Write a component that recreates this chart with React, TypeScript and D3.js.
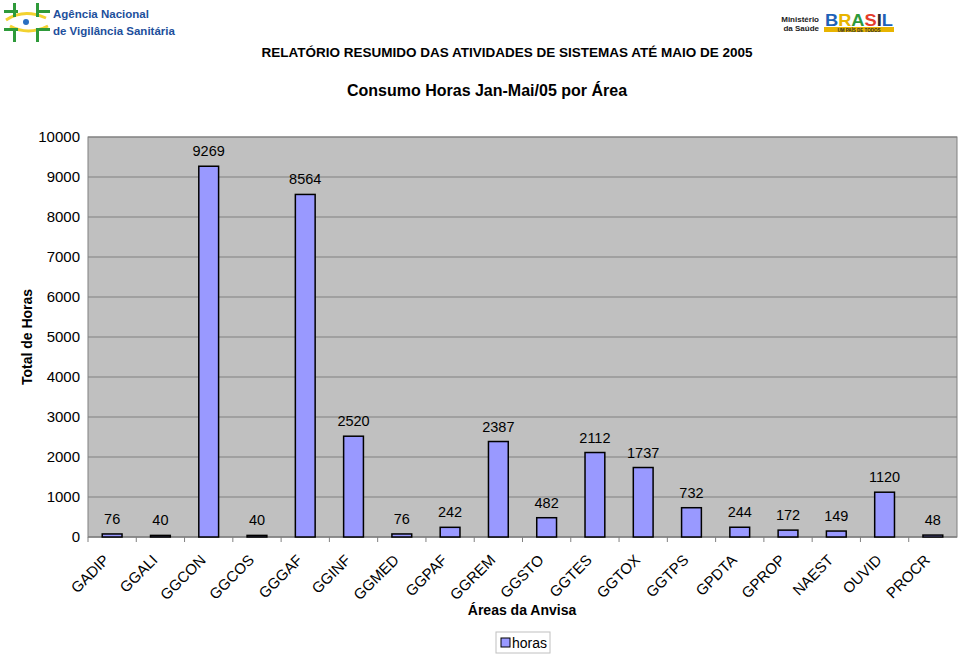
import * as d3 from "d3";

const categories = ["GADIP", "GGALI", "GGCON", "GGCOS", "GGGAF", "GGINF", "GGMED", "GGPAF", "GGREM", "GGSTO", "GGTES", "GGTOX", "GGTPS", "GPDTA", "GPROP", "NAEST", "OUVID", "PROCR"];
const horas = [76, 40, 9269, 40, 8564, 2520, 76, 242, 2387, 482, 2112, 1737, 732, 244, 172, 149, 1120, 48];
const yTicks = [0, 1000, 2000, 3000, 4000, 5000, 6000, 7000, 8000, 9000, 10000];

const FONT = "Liberation Sans, Arial, sans-serif";

export default function App() {
  const width = 960;
  const height = 655;
  const plot = { left: 88, right: 957, top: 137, bottom: 537 };

  const x = d3.scaleBand<string>()
    .domain(categories)
    .range([plot.left, plot.right])
    .paddingInner(0.59)
    .paddingOuter(0.295);
  const step = (plot.right - plot.left) / categories.length;
  const y = d3.scaleLinear().domain([0, 10000]).range([plot.bottom, plot.top]);

  return (
    <svg width={width} height={height} style={{ position: "absolute", left: 0, top: 0, background: "#fff" }} fontFamily={FONT}>
      {/* Anvisa logo */}
      <g>
        <path d="M6,20 Q24,8 46,18" fill="none" stroke="#f2d230" strokeWidth={3} />
        <path d="M10,26 Q28,36 48,26" fill="none" stroke="#f2d230" strokeWidth={3} />
        <rect x={13} y={3} width={3} height={14} fill="#2e9a3a" />
        <rect x={4} y={10} width={14} height={3} fill="#2e9a3a" />
        <rect x={36} y={3} width={3} height={14} fill="#2e9a3a" />
        <rect x={36} y={10} width={14} height={3} fill="#2e9a3a" />
        <rect x={13} y={28} width={3} height={14} fill="#2e9a3a" />
        <rect x={4} y={28} width={14} height={3} fill="#2e9a3a" />
        <rect x={36} y={28} width={3} height={14} fill="#2e9a3a" />
        <rect x={36} y={28} width={14} height={3} fill="#2e9a3a" />
        <circle cx={26} cy={22} r={3} fill="#2a6fc0" />
        <text x={53} y={18} fontSize={11.5} fontWeight="bold" fill="#1d4f9c">Agência Nacional</text>
        <text x={53} y={35} fontSize={11.5} fontWeight="bold" fill="#1d4f9c">de Vigilância Sanitária</text>
      </g>
      {/* Ministério / Brasil logo */}
      <g>
        <text x={819} y={22} fontSize={8} fontWeight="bold" textAnchor="end" fill="#222">Ministério</text>
        <text x={819} y={31} fontSize={8} fontWeight="bold" textAnchor="end" fill="#222">da Saúde</text>
        <text x={825} y={26} fontSize={17} fontWeight="bold" textLength={68} lengthAdjust="spacingAndGlyphs">
          <tspan fill="#1e62b8">B</tspan><tspan fill="#e8b400">R</tspan><tspan fill="#2d9a3a">A</tspan>
          <tspan fill="#e43b2a">S</tspan><tspan fill="#2a2a2a">I</tspan><tspan fill="#1e62b8">L</tspan>
        </text>
        <rect x={824} y={27} width={70} height={5} fill="#e8b400" />
        <text x={859} y={31.5} fontSize={4.5} textAnchor="middle" fill="#2a2a2a" fontWeight="bold">UM PAÍS DE TODOS</text>
      </g>

      <text x={507} y={57} fontSize={13.5} fontWeight="bold" textAnchor="middle">RELATÓRIO RESUMIDO DAS ATIVIDADES DE SISTEMAS ATÉ MAIO DE 2005</text>
      <text x={487} y={96} fontSize={16} fontWeight="bold" textAnchor="middle">Consumo Horas Jan-Mai/05 por Área</text>

      {/* plot area */}
      <rect x={plot.left} y={plot.top} width={plot.right - plot.left} height={plot.bottom - plot.top} fill="#c0c0c0" stroke="#808080" strokeWidth={1} />
      {yTicks.map((t) => (
        <g key={t}>
          <line x1={plot.left} x2={plot.right} y1={y(t)} y2={y(t)} stroke="#808080" strokeWidth={1} />
          <text x={80} y={y(t) + 5} fontSize={15} textAnchor="end">{t}</text>
        </g>
      ))}
      <line x1={plot.left} x2={plot.right} y1={plot.bottom} y2={plot.bottom} stroke="#808080" strokeWidth={1} />
      {categories.map((c, i) => (
        <line key={c} x1={plot.left + i * step} x2={plot.left + i * step} y1={plot.bottom} y2={plot.bottom + 5} stroke="#808080" />
      ))}

      {categories.map((c, i) => (
        <g key={c}>
          <rect x={x(c)} y={y(horas[i])} width={x.bandwidth()} height={plot.bottom - y(horas[i])}
            fill="#9999ff" stroke="#000" strokeWidth={1.5} />
          <text x={(x(c) as number) + x.bandwidth() / 2} y={y(horas[i]) - 10} fontSize={14.5} textAnchor="middle">{horas[i]}</text>
          <text transform={`translate(${(x(c) as number) + x.bandwidth() / 2 - 2},${plot.bottom + 24}) rotate(-45)`}
            fontSize={15} textAnchor="end">{c}</text>
        </g>
      ))}

      <text transform={`translate(32,${(plot.top + plot.bottom) / 2}) rotate(-90)`} fontSize={14} fontWeight="bold" textAnchor="middle">Total de Horas</text>
      <text x={522} y={615} fontSize={14} fontWeight="bold" textAnchor="middle">Áreas da Anvisa</text>

      <rect x={496} y={632} width={54} height={21} fill="#fff" stroke="#c0c0c0" />
      <rect x={501} y={638} width={9} height={9} fill="#9999ff" stroke="#000" />
      <text x={512} y={648} fontSize={14}>horas</text>
    </svg>
  );
}
